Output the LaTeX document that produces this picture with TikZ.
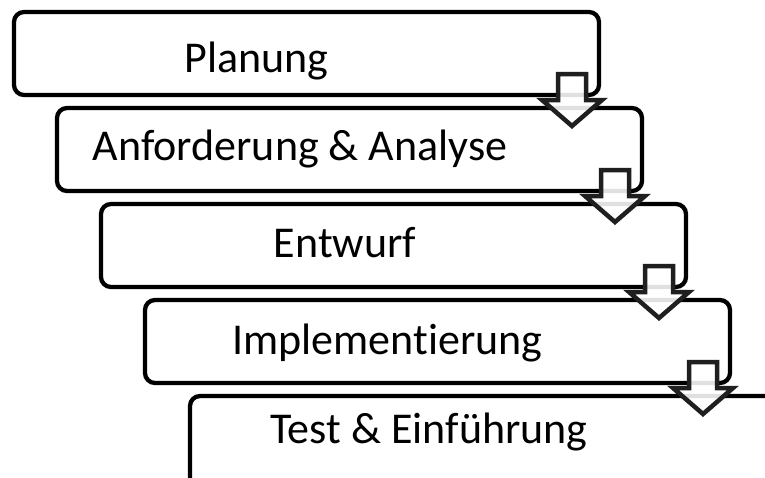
\documentclass[tikz,border=0pt]{standalone}
\usepackage{fontspec}
\setmainfont{Carlito}[Ligatures={NoCommon}]
\usetikzlibrary{calc}
\begin{document}
\begin{tikzpicture}[x=1pt,y=-1pt,
  stagebox/.style={draw=black, line width=4.3pt, rounded corners=10pt, fill=white,
    minimum width=585pt, minimum height=83pt, outer sep=0pt, inner sep=0pt, anchor=north west},
  stagetext/.style={font=\fontsize{44}{53}\selectfont, anchor=base, inner sep=0pt},
  blockarrow/.style={draw=black!88, line width=4.5pt, fill=white, fill opacity=0.88, line join=miter}]
\useasboundingbox (0,0) rectangle (765,477);
\clip (0,0) rectangle (765,477);
% boxes
\node[stagebox] (b1) at (14,12) {};
\node[stagebox] (b2) at (57,108) {};
\node[stagebox] (b3) at (101,204) {};
\node[stagebox] (b4) at (145,300) {};
\node[stagebox, minimum height=100pt] (b5) at (190,396) {};
% texts
\node[stagetext] (t1) at (256.5,72) {Planung};
\node[stagetext] (t2) at (300,160) {Anforderung \& Analyse};
\node[stagetext] (t3) at (345,257) {Entwurf};
\node[stagetext] (t4) at (387.5,354) {Implementierung};
\node[stagetext] (t5) at (429,443) {Test \& Einführung};
% block arrows
\foreach \i in {1,2,3,4}{
  \draw[blockarrow]
    ([shift={(-41,-21)}]b\i.south east) --
    ([shift={(-13,-21)}]b\i.south east) --
    ([shift={(-13,5)}]b\i.south east) --
    ([shift={(3,5)}]b\i.south east) --
    ([shift={(-27,31)}]b\i.south east) --
    ([shift={(-57,5)}]b\i.south east) --
    ([shift={(-41,5)}]b\i.south east) -- cycle;
}
\end{tikzpicture}
\end{document}
